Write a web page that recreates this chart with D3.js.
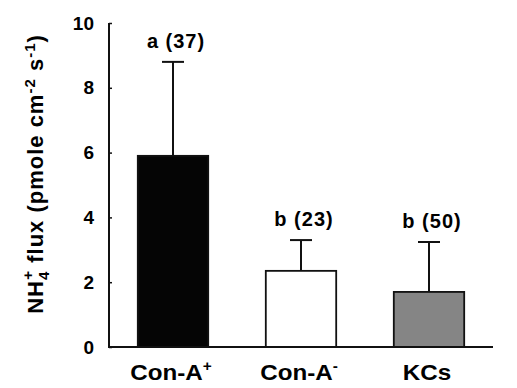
<!DOCTYPE html>
<html>
<head>
<meta charset="utf-8">
<script src="https://cdn.jsdelivr.net/npm/d3@7"></script>
<style>
  body { margin: 0; background: #fff; }
  text { font-family: "Liberation Sans", Arial, sans-serif; font-weight: bold; fill: #000; }
</style>
</head>
<body>
<div id="chart"></div>
<script>
// data
const groups = ['Con-A+', 'Con-A-', 'KCs'];
const means = [5.9, 2.35, 1.7];
const upperErr = [8.8, 3.3, 3.24];
const letters = ['a (37)', 'b (23)', 'b (50)'];
const fills = ['#050505', '#ffffff', '#858585'];
const yTicks = [0, 2, 4, 6, 8, 10];

const width = 517, height = 388;
const margin = { left: 109, right: 24, top: 23, bottom: 41 };

const svg = d3.select('#chart').append('svg')
  .attr('width', width)
  .attr('height', height);

const x = d3.scaleBand()
  .domain(groups)
  .range([margin.left, width - margin.right])
  .paddingInner(0.45)
  .paddingOuter(0.225);

const y = d3.scaleLinear()
  .domain([0, 10])
  .range([height - margin.bottom, margin.top]);

// bars
svg.append('g').selectAll('rect')
  .data(groups)
  .enter().append('rect')
  .attr('x', d => x(d))
  .attr('y', (d, i) => y(means[i]))
  .attr('width', x.bandwidth())
  .attr('height', (d, i) => y(0) - y(means[i]))
  .attr('fill', (d, i) => fills[i])
  .attr('stroke', '#111')
  .attr('stroke-width', 1.8);

// error bars
const err = svg.append('g').attr('stroke', '#111').attr('stroke-width', 2);
groups.forEach((g, i) => {
  const cx = x(g) + x.bandwidth() / 2;
  err.append('line')
    .attr('x1', cx).attr('x2', cx)
    .attr('y1', y(means[i])).attr('y2', y(upperErr[i]));
  err.append('line')
    .attr('x1', cx - 11).attr('x2', cx + 11)
    .attr('y1', y(upperErr[i])).attr('y2', y(upperErr[i]));
});

// significance letters
svg.append('g').selectAll('text')
  .data(groups)
  .enter().append('text')
  .attr('x', d => x(d) + x.bandwidth() / 2 + 3)
  .attr('y', (d, i) => y(upperErr[i]) - 14)
  .attr('text-anchor', 'middle')
  .style('font-size', '20px')
  .style('letter-spacing', '1px')
  .text((d, i) => letters[i]);

// y axis
const yAxis = svg.append('g')
  .attr('transform', 'translate(' + margin.left + ',0)')
  .call(d3.axisLeft(y).tickValues(yTicks).tickSize(-3).tickPadding(15).tickFormat(d3.format('d')));
yAxis.select('.domain').attr('stroke', '#111').attr('stroke-width', 2).attr('d', 'M0,' + y(10) + 'V' + y(0));
yAxis.selectAll('.tick line').attr('stroke', '#111').attr('stroke-width', 1.5);
yAxis.selectAll('.tick text')
  .attr('font-size', null).attr('font-family', null)
  .style('font-size', '19px')
  .style('font-family', '"Liberation Sans", Arial, sans-serif').style('font-weight', 'bold');

// x axis baseline
svg.append('line')
  .attr('x1', margin.left - 1).attr('x2', width - margin.right)
  .attr('y1', y(0)).attr('y2', y(0))
  .attr('stroke', '#111').attr('stroke-width', 2);

// category labels with sign superscripts
const xl = svg.append('g').selectAll('text')
  .data(groups)
  .enter().append('text')
  .attr('transform', d => 'translate(' + (x(d) + x.bandwidth() / 2 - 2) + ',380) scale(1.1,1)')
  .attr('text-anchor', 'middle')
  .style('font-size', '22px');
xl.each(function (d) {
  const t = d3.select(this);
  const m = d.match(/^(.*?)([+-])$/);
  if (m) {
    t.append('tspan').text(m[1]);
    t.append('tspan').attr('dy', -9).style('font-size', '14px').text(m[2]);
  } else {
    t.text(d);
  }
});

// y title
const yt = svg.append('text')
  .attr('transform', 'translate(43,174) rotate(-90)')
  .attr('text-anchor', 'middle')
  .style('font-size', '22px')
  .style('letter-spacing', '1px');
yt.append('tspan').text('NH');
yt.append('tspan').attr('dy', 6).style('font-size', '15px').text('4');
yt.append('tspan').attr('dy', -16).attr('dx', -9).style('font-size', '15px').text('+');
yt.append('tspan').attr('dy', 10).text(' flux (pmole cm');
yt.append('tspan').attr('dy', -8).style('font-size', '15px').text('-2');
yt.append('tspan').attr('dy', 8).text(' s');
yt.append('tspan').attr('dy', -8).style('font-size', '15px').text('-1');
yt.append('tspan').attr('dy', 8).text(')');
</script>
</body>
</html>
